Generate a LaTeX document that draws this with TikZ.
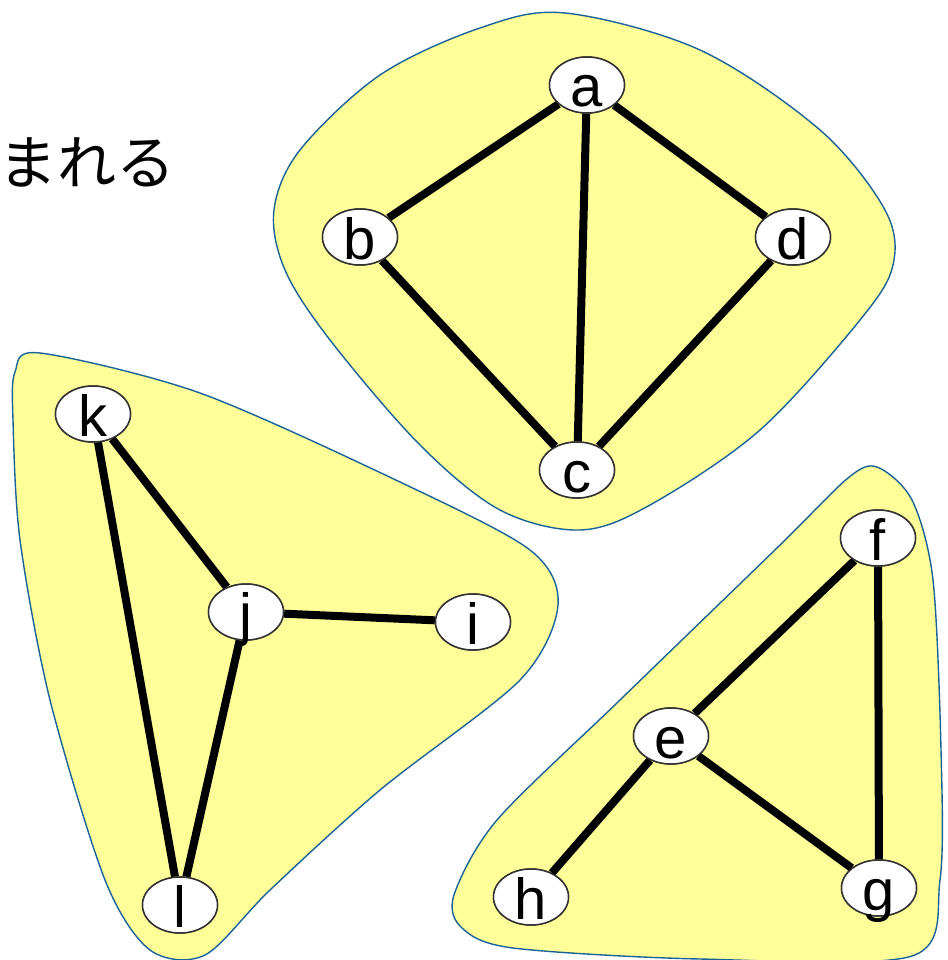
\documentclass[tikz,border=0pt]{standalone}
\usepackage{fontspec}
\setmainfont{Liberation Sans}
\newfontfamily\jpfont{Noto Sans CJK JP}
\usetikzlibrary{shapes.geometric}
\definecolor{blobfill}{RGB}{255,255,153}
\definecolor{blobline}{RGB}{25,100,150}
\tikzset{
  blob/.style={fill=blobfill,draw=blobline,line width=1.4pt},
  vtx/.style={ellipse,draw=black!80,line width=1.5pt,fill=white,minimum width=75pt,minimum height=56pt,inner sep=0pt},
  lab/.style={anchor=base,inner sep=0pt,font=\fontsize{58}{58}\selectfont},
  edge/.style={line width=8pt,black}
}
\begin{document}
\begin{tikzpicture}[x=1pt,y=-1pt]
\useasboundingbox (0,0) rectangle (947,960);
% blobs
\draw[blob] plot[smooth cycle,tension=0.55] coordinates {(565,13) (700,50) (820,130) (885,210) (893,265) (860,320) (760,430) (650,505) (580,530) (500,510) (420,445) (330,340) (285,270) (274,210) (300,150) (380,75) (480,28)};
\draw[blob] plot[smooth cycle,tension=0.5] coordinates {(40,353) (200,393) (400,482) (530,550) (558,605) (520,680) (380,790) (270,890) (205,955) (150,950) (105,880) (50,700) (20,540) (13,420) (15,372)};
\draw[blob] plot[smooth cycle,tension=0.5] coordinates {(877,467) (912,500) (933,580) (941,750) (940,880) (912,956) (700,959) (513,948) (462,928) (454,895) (497,820) (620,700) (780,545) (848,478)};
% text
\node[anchor=west,inner sep=0pt,font=\jpfont\fontsize{59}{59}\selectfont] (jp) at (-2,162) {まれる};
% vertices
\node[vtx] (a) at (587,85) {};
\node[vtx] (b) at (360,237) {};
\node[vtx] (d) at (793,237) {};
\node[vtx] (c) at (577,470) {};
\node[vtx] (k) at (93,414) {};
\node[vtx] (j) at (246,612) {};
\node[vtx] (i) at (473,622) {};
\node[vtx] (l) at (180,905) {};
\node[vtx] (f) at (878,538) {};
\node[vtx] (e) at (671,736) {};
\node[vtx] (h) at (531,897) {};
\node[vtx] (g) at (879,888) {};
% edges
\foreach \u/\v in {a/b,a/c,a/d,b/c,d/c,k/j,k/l,j/i,j/l,f/e,f/g,e/h,e/g}{
  \draw[edge] (\u) -- (\v);
}
% vertices on top of edges
\foreach \n in {a,b,c,d,e,f,g,h,i,j,k,l}{
  \node[vtx] at (\n) {};
  \node[lab] at ([yshift=-22pt]\n.center) {\n};
}
\end{tikzpicture}
\end{document}
